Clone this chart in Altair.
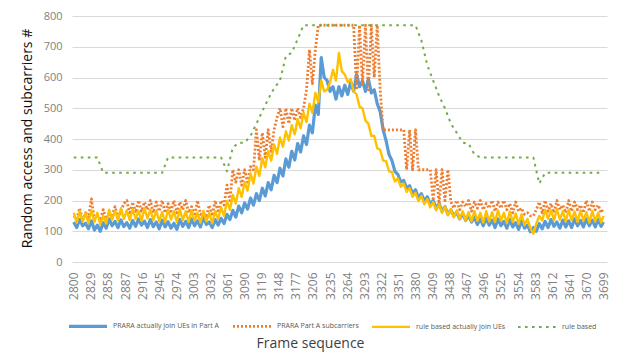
import altair as alt
import pandas as pd

# ---------------- data ----------------
frames5 = [2800 + 5 * i for i in range(180)] + [3699]
frames10 = [2800 + 10 * i for i in range(90)] + [3699]

x_ticks = [2800, 2829, 2858, 2887, 2916, 2945, 2974, 3003, 3032, 3061, 3090,
           3119, 3148, 3177, 3206, 3235, 3264, 3293, 3322, 3351, 3380, 3409,
           3438, 3467, 3496, 3525, 3554, 3583, 3612, 3641, 3670, 3699]
y_ticks = [0, 100, 200, 300, 400, 500, 600, 700, 800]

# PRARA actually join UEs in Part A (every 5 frames)
prara_join = [130, 112, 138, 118, 126, 108, 134, 104, 120, 100,
              128, 110, 140, 118, 132, 112, 137, 115, 128, 110,
              135, 116, 140, 120, 133, 112, 138, 115, 130, 108,
              136, 114, 131, 110, 126, 106, 138, 116, 132, 112,
              140, 118, 134, 114, 145, 122, 130, 112, 138, 120,
              142, 125, 155, 138, 168, 146, 182, 160, 192, 172,
              208, 185, 222, 200, 240, 215, 258, 235, 282, 258,
              305, 280, 335, 308, 360, 332, 385, 358, 410, 382,
              445, 420, 510, 480, 665, 600, 590, 555, 570, 530,
              570, 540, 575, 545, 585, 555, 610, 570, 590, 555,
              595, 550, 560, 515, 490, 430, 395, 350, 330, 295,
              285, 260, 265, 240, 248, 222, 235, 208, 222, 198,
              212, 188, 200, 176, 190, 165, 180, 155, 170, 150,
              162, 140, 158, 135, 152, 130, 145, 122, 140, 118,
              142, 120, 136, 112, 140, 118, 132, 110, 138, 114,
              128, 106, 134, 110, 120, 98, 112, 100, 125, 108,
              132, 112, 138, 116, 130, 110, 136, 114, 134, 112,
              140, 118, 135, 114, 140, 118, 136, 114, 138, 116,
              130]

# PRARA Part A subcarriers (every 5 frames)
prara_sub = [150, 140, 175, 135, 160, 145, 205, 140, 150, 135,
             170, 140, 155, 150, 180, 145, 165, 190, 200, 155,
             195, 160, 200, 165, 195, 170, 200, 160, 195, 165,
             200, 160, 190, 165, 200, 160, 195, 170, 200, 160,
             180, 150, 200, 155, 160, 150, 185, 150, 200, 160,
             200, 185, 250, 200, 300, 260, 300, 250, 300, 260,
             310, 300, 430, 330, 420, 340, 430, 360, 430, 470,
             500, 440, 500, 450, 500, 460, 500, 470, 500, 560,
             690, 580, 690, 770, 770, 770, 770, 770, 770, 770,
             770, 770, 770, 770, 770, 770, 560, 770, 580, 770,
             560, 770, 600, 770, 560, 430, 430, 430, 430, 430,
             430, 430, 430, 300, 430, 300, 430, 300, 300, 300,
             300, 300, 200, 300, 190, 300, 200, 300, 195, 175,
             200, 170, 195, 180, 200, 165, 195, 175, 200, 170,
             190, 175, 200, 165, 195, 175, 200, 170, 190, 160,
             195, 165, 175, 155, 160, 150, 150, 170, 195, 160,
             200, 165, 190, 160, 200, 170, 185, 160, 200, 165,
             195, 170, 185, 160, 200, 165, 195, 170, 185, 160,
             175]

# rule based actually join UEs (every 5 frames)
rule_join = [160, 128, 165, 132, 158, 126, 168, 130, 160, 122,
             150, 125, 170, 138, 166, 135, 175, 140, 168, 136,
             172, 140, 166, 134, 175, 142, 170, 136, 168, 132,
             162, 130, 170, 138, 165, 130, 172, 136, 165, 130,
             168, 134, 160, 128, 166, 132, 160, 126, 165, 140,
             178, 150, 198, 170, 218, 190, 240, 212, 260, 232,
             288, 255, 310, 280, 338, 308, 360, 330, 382, 352,
             405, 375, 425, 395, 445, 415, 465, 435, 485, 455,
             515, 485, 550, 520, 590, 555, 560, 585, 625, 590,
             680, 620, 610, 585, 595, 555, 545, 505, 500, 460,
             450, 410, 410, 370, 365, 330, 328, 295, 292, 262,
             272, 245, 255, 228, 240, 212, 225, 198, 215, 188,
             205, 178, 195, 168, 188, 160, 180, 152, 172, 145,
             168, 140, 165, 135, 162, 132, 166, 134, 160, 128,
             165, 132, 162, 130, 168, 134, 160, 126, 164, 130,
             158, 124, 155, 120, 140, 110, 92, 125, 150, 135,
             170, 140, 168, 136, 172, 138, 165, 132, 170, 136,
             164, 130, 168, 134, 162, 128, 166, 132, 160, 128,
             150]

# rule based (every 10 frames)
rule_based = [340, 340, 340, 340, 340, 290, 290, 290, 290, 290,
              290, 290, 290, 290, 290, 290, 340, 340, 340, 340,
              340, 340, 340, 340, 340, 340, 295, 372, 388, 388,
              410, 450, 490, 530, 565, 590, 670, 680, 725, 770,
              770, 770, 770, 770, 770, 770, 770, 770, 770, 770,
              770, 770, 770, 770, 770, 770, 770, 770, 770, 720,
              640, 590, 540, 500, 450, 420, 388, 385, 350, 340,
              340, 340, 340, 340, 340, 340, 340, 340, 340, 255,
              290, 290, 290, 290, 290, 290, 290, 290, 290, 290,
              290]

series_names = ["PRARA actually join UEs in Part A", "PRARA Part A subcarriers",
                "rule based actually join UEs", "rule based"]
series_values = [prara_join, prara_sub, rule_join, rule_based]
series_frames = [frames5, frames5, frames5, frames10]

colors = ["#5B9BD5", "#ED7D31", "#FFC000", "#70AD47"]
dashes = [[1, 0], [2, 2], [1, 0], [2.6, 4.4]]
widths = [3.2, 2, 4, 2.6]

rows = []
for name, fr, vals in zip(series_names, series_frames, series_values):
    for f, v in zip(fr, vals):
        rows.append({"frame": f, "value": v, "series": name})
df = pd.DataFrame(rows)

font = "Open Sans"

base = alt.Chart(df).mark_line(strokeJoin="round").encode(
    x=alt.X("frame:Q",
            scale=alt.Scale(domain=[2797, 3705], nice=False, zero=False),
            axis=alt.Axis(values=x_ticks, labelAngle=270, grid=False, domain=False,
                          ticks=False, labelPadding=10, labelFontSize=12,
                          labelColor="#7F7F7F", labelFont=font, format="d",
                          title="Frame sequence", titleFont=font, titleFontSize=14,
                          titleFontWeight="normal", titleColor="#404040",
                          titleX=238, titleY=81, titleAlign="center",
                          titleBaseline="middle", labelOverlap=False)),
    y=alt.Y("value:Q",
            scale=alt.Scale(domain=[0, 800], nice=False),
            axis=alt.Axis(values=y_ticks, grid=True, gridColor="#D9D9D9",
                          domain=False, ticks=False, labelPadding=10,
                          labelFontSize=11, labelColor="#7F7F7F", labelFont=font,
                          title="Random access and subcarriers #", titleFont=font,
                          titleFontSize=14, titleFontWeight="normal",
                          titleColor="#111111", titleAngle=270, titleX=-45,
                          titleY=122, titleAlign="center", titleBaseline="middle")),
    color=alt.Color("series:N", scale=alt.Scale(domain=series_names, range=colors),
                    legend=alt.Legend(title=None)),
    strokeDash=alt.StrokeDash("series:N", scale=alt.Scale(domain=series_names, range=dashes),
                              legend=alt.Legend(title=None)),
    strokeWidth=alt.StrokeWidth("series:N", scale=alt.Scale(domain=series_names, range=widths),
                                legend=alt.Legend(title=None)),
)

layers = [base.transform_filter(alt.datum.series == s) for s in series_names]

chart = alt.layer(*layers).properties(
    width=535, height=246,
    autosize=alt.AutoSizeParams(type="none"),
    padding={"left": 64, "top": 8, "right": 5, "bottom": 91},
).configure_view(stroke=None).configure_legend(
    orient="none", legendX=-5, legendY=289, direction="horizontal", columns=4,
    symbolType="stroke", symbolSize=1444, labelFontSize=7, labelFont=font,
    labelColor="#595959", labelOffset=4, columnPadding=8,
)

chart.save("out.html", embed_options={"renderer": "svg", "actions": False})
